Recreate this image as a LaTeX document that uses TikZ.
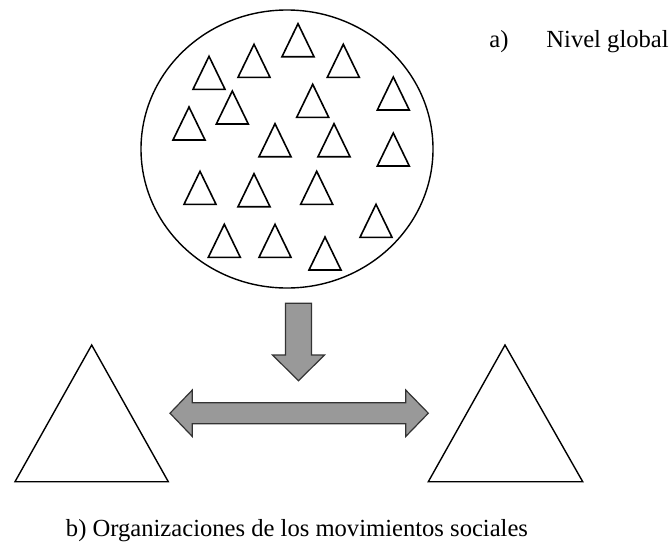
\documentclass[tikz,border=0pt]{standalone}
\usepackage{fontspec}
\setmainfont{Liberation Serif}
\usetikzlibrary{positioning}

\tikzset{
	smalltri/.style={draw, line width=0.8pt, line join=miter},
	bigtri/.style={draw, line width=0.7pt, line join=miter},
	blockarrow/.style={draw=black!80, line width=0.6pt, fill=black!40, line join=miter},
	label/.style={inner sep=0pt, font=\fontsize{12.3}{15}\selectfont}
}

\begin{document}
\begin{tikzpicture}[x=0.5pt, y=-0.5pt]
	\useasboundingbox (0,0) rectangle (672,542);

	% nivel global
	\draw[line width=0.7pt] (287,149) ellipse [x radius=146, y radius=139];
	\foreach \tx/\ty in {298/56.7, 254/77.3, 343.3/77.3, 209/89.3, 393.3/110,
		232.3/124, 312.7/117.3, 189/140, 275/156.7, 334/156.7, 393.3/166,
		200/204.3, 254/206.7, 316.7/204.3, 376/237.3, 224.3/257.3,
		275/257.3, 325/270}
		\draw[smalltri] (\tx,\ty) ++(-16,0) -- ++(32,0) -- ++(-16,-33) -- cycle;
	\node[label, anchor=base west] (a) at (489,47) {a)};
	\node[label, anchor=base west] (nivel) at (546,47) {Nivel global};

	% flecha hacia abajo
	\draw[blockarrow] (285.5,303.3) -- (311.5,303.3) -- (311.5,355) -- (324.5,355)
		-- (298.5,380.7) -- (272.5,355) -- (285.5,355) -- cycle;

	% organizaciones
	\coordinate (orgA) at (91.7,345);
	\coordinate (orgB) at (505,345);
	\draw[bigtri] (orgA) -- (168.3,481.7) -- (15,481.7) -- cycle;
	\draw[bigtri] (orgB) -- (582.7,481.7) -- (428.3,481.7) -- cycle;

	% flecha doble
	\draw[blockarrow] (170,413.2) -- (192.3,390) -- (192.3,402.7) -- (405.7,402.7)
		-- (405.7,390) -- (428.3,413.2) -- (405.7,436.5) -- (405.7,423.7)
		-- (192.3,423.7) -- (192.3,436.5) -- cycle;

	\node[label, anchor=base] (orgs) at (297,536) {b) Organizaciones de los movimientos sociales};
\end{tikzpicture}
\end{document}
